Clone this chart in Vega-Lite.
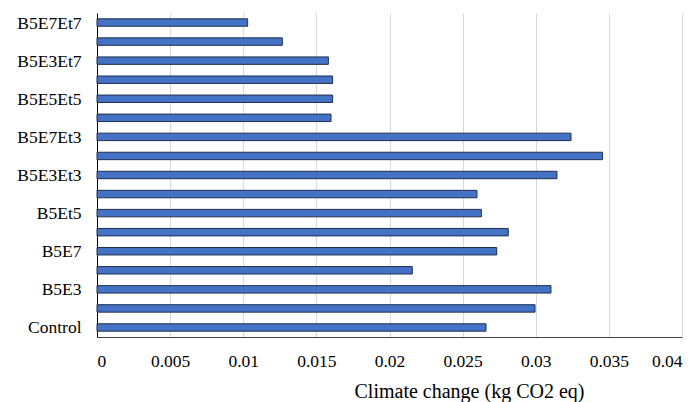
{
  "$schema": "https://vega.github.io/schema/vega-lite/v6.json",
  "width": 585,
  "height": 324,
  "autosize": {"type": "none"},
  "padding": {"left": 97, "top": 13, "right": 17, "bottom": 65},
  "background": "white",
  "config": {"view": {"stroke": null}, "font": "Liberation Serif"},
  "data": {
    "values": [
      {"treatment": "Control", "value": 0.0266},
      {"treatment": "B5", "value": 0.02995},
      {"treatment": "B5E3", "value": 0.03104},
      {"treatment": "B5E5", "value": 0.02156},
      {"treatment": "B5E7", "value": 0.02733},
      {"treatment": "B5Et3", "value": 0.02812},
      {"treatment": "B5Et5", "value": 0.02628},
      {"treatment": "B5Et7", "value": 0.02598},
      {"treatment": "B5E3Et3", "value": 0.03145},
      {"treatment": "B5E5Et3", "value": 0.03457},
      {"treatment": "B5E7Et3", "value": 0.03241},
      {"treatment": "B5E3Et5", "value": 0.016},
      {"treatment": "B5E5Et5", "value": 0.01611},
      {"treatment": "B5E7Et5", "value": 0.01611},
      {"treatment": "B5E3Et7", "value": 0.01582},
      {"treatment": "B5E5Et7", "value": 0.01267},
      {"treatment": "B5E7Et7", "value": 0.0103}
    ]
  },
  "mark": {"type": "bar", "fill": "#4472C4", "stroke": "#1F2F4F", "strokeWidth": 1},
  "encoding": {
    "y": {
      "field": "treatment",
      "type": "nominal",
      "sort": ["B5E7Et7", "B5E5Et7", "B5E3Et7", "B5E7Et5", "B5E5Et5", "B5E3Et5", "B5E7Et3", "B5E5Et3", "B5E3Et3", "B5Et7", "B5Et5", "B5Et3", "B5E7", "B5E5", "B5E3", "B5", "Control"],
      "scale": {"paddingInner": 0.61, "paddingOuter": 0.305},
      "axis": {
        "title": null,
        "values": ["B5E7Et7", "B5E3Et7", "B5E5Et5", "B5E7Et3", "B5E3Et3", "B5Et5", "B5E7", "B5E3", "Control"],
        "ticks": false,
        "labelFont": "Liberation Serif",
        "labelFontSize": 17.5,
        "labelColor": "#000000",
        "labelPadding": 16,
        "labelOffset": 1,
        "domainColor": "#000000",
        "domainWidth": 1,
        "grid": false
      }
    },
    "x": {
      "field": "value",
      "type": "quantitative",
      "scale": {"domain": [0, 0.04], "nice": false},
      "axis": {
        "title": "Climate change (kg CO2 eq)",
        "values": [0, 0.005, 0.01, 0.015, 0.02, 0.025, 0.03, 0.035, 0.04],
        "format": "~g",
        "ticks": false,
        "labelFont": "Liberation Serif",
        "labelFontSize": 17.5,
        "labelColor": "#000000",
        "labelPadding": 15,
        "domainColor": "#404040",
        "grid": true,
        "gridColor": "#D9D9D9",
        "gridWidth": 1,
        "titleFont": "Liberation Serif",
        "titleFontSize": 20,
        "titleFontWeight": "normal",
        "titleColor": "#000000",
        "titlePadding": 12,
        "titleX": 372,
        "titleAnchor": "start",
        "titleAlign": "center"
      }
    }
  }
}
